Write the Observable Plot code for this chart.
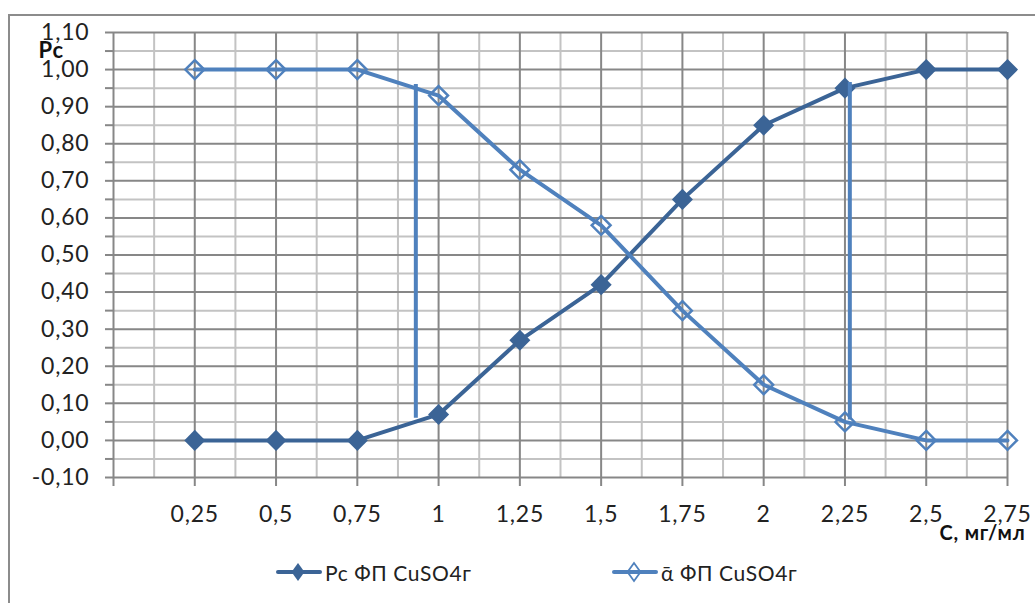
<!DOCTYPE html>
<html>
<head>
<meta charset="utf-8">
<script src="https://cdn.jsdelivr.net/npm/d3@7"></script>
<script src="https://cdn.jsdelivr.net/npm/@observablehq/plot@0.6"></script>
<style>
  html, body { margin: 0; padding: 0; background: #fff; width: 1035px; height: 603px; overflow: hidden; }
  #chart { position: absolute; left: 0; top: 0; }
  #frame { position: absolute; left: 8px; top: 14px; width: 1100px; height: 700px; border: 2px solid #8c8c8c; pointer-events: none; z-index: 5; }
  #legend { position: absolute; top: 558px; left: 0; width: 1035px; height: 28px; font-family: Lato, sans-serif; font-size: 21px; letter-spacing: 0.6px; color: #222; }
  .item { position: absolute; display: flex; align-items: center; height: 28px; }
  .item svg { display: block; margin-right: 3px; }
</style>
</head>
<body>
<div id="chart"></div>
<div id="legend"></div>
<div id="frame"></div>
<script>
// ---- data ----
const categories = [0.25, 0.5, 0.75, 1, 1.25, 1.5, 1.75, 2, 2.25, 2.5, 2.75];
const xTickLabels = ["0,25", "0,5", "0,75", "1", "1,25", "1,5", "1,75", "2", "2,25", "2,5", "2,75"];
const pcValues = [0, 0, 0, 0.07, 0.27, 0.42, 0.65, 0.85, 0.95, 1.00, 1.00];
const alphaValues = [1.00, 1.00, 1.00, 0.93, 0.73, 0.58, 0.35, 0.15, 0.05, 0, 0];
const yTickValues = [-0.1, 0, 0.1, 0.2, 0.3, 0.4, 0.5, 0.6, 0.7, 0.8, 0.9, 1.0, 1.1];
const yTickLabels = ["-0,10", "0,00", "0,10", "0,20", "0,30", "0,40", "0,50", "0,60", "0,70", "0,80", "0,90", "1,00", "1,10"];
const yMinorValues = [-0.05, 0.05, 0.15, 0.25, 0.35, 0.45, 0.55, 0.65, 0.75, 0.85, 0.95, 1.05];
const xMinorValues = [0.125, 0.375, 0.625, 0.875, 1.125, 1.375, 1.625, 1.875, 2.125, 2.375, 2.625];
const xAxisStart = 0;
// vertical marker lines drawn on the chart
const markerX = [0.93, 2.265];
const markerYLow = [0.06, 0.055];
const markerYHigh = [0.96, 0.965];
const seriesNames = ["Pc ФП CuSO4г", "ᾱ ФП CuSO4г"];
const seriesColors = ["#3B6496", "#4F81BD"];
const yTitle = "Pc";
const xTitle = "C, мг/мл";

// ---- build ----
const data = categories.map((c, i) => ({c, pc: pcValues[i], a: alphaValues[i]}));
const markers = markerX.map((x, i) => ({x, y1: markerYLow[i], y2: markerYHigh[i]}));
const majorGrid = "#878787", minorGrid = "#c3c3c3";
const yLabel = d => yTickLabels[yTickValues.findIndex(v => Math.abs(v - d) < 1e-9)] ?? "";
const xLabel = d => xTickLabels[categories.findIndex(v => Math.abs(v - d) < 1e-9)] ?? "";

const chart = Plot.plot({
  width: 1035,
  height: 550,
  marginLeft: 113,
  marginRight: 28,
  marginTop: 32,
  marginBottom: 73,
  x: {domain: [xAxisStart, categories[categories.length - 1]]},
  y: {domain: [yTickValues[0], yTickValues[yTickValues.length - 1]]},
  style: {fontFamily: "Lato, sans-serif", fontSize: "23px", letterSpacing: "0.8px", color: "#222", background: "transparent", overflow: "visible"},
  marks: [
    Plot.ruleY(yMinorValues, {stroke: minorGrid, strokeWidth: 2}),
    Plot.ruleX(xMinorValues, {stroke: minorGrid, strokeWidth: 2}),
    Plot.ruleY(yTickValues, {stroke: majorGrid, strokeWidth: 2}),
    Plot.ruleX([xAxisStart, ...categories], {stroke: majorGrid, strokeWidth: 2}),
    Plot.axisY({ticks: [...yTickValues, ...yMinorValues], tickSize: 8, tickFormat: () => "", stroke: majorGrid, strokeWidth: 2, label: null}),
    Plot.axisY({ticks: yTickValues, tickSize: 0, tickPadding: 24, tickFormat: yLabel, fill: "#222", label: null}),
    Plot.axisX({ticks: [xAxisStart, ...categories], tickSize: 9, tickFormat: () => "", stroke: majorGrid, strokeWidth: 2, label: null}),
    Plot.axisX({ticks: categories, tickSize: 0, tickPadding: 28, tickFormat: xLabel, fill: "#222", label: null}),
    Plot.line(data, {x: "c", y: "pc", stroke: seriesColors[0], strokeWidth: 4}),
    Plot.line(data, {x: "c", y: "a", stroke: seriesColors[1], strokeWidth: 4}),
    Plot.dot(data, {x: "c", y: "pc", symbol: "diamond2", r: 9.5, fill: seriesColors[0], stroke: "none"}),
    Plot.dot(data, {x: "c", y: "a", symbol: "diamond2", r: 8.5, fill: "none", stroke: seriesColors[1], strokeWidth: 2.5}),
    Plot.ruleX(markers, {x: "x", y1: "y1", y2: "y2", stroke: seriesColors[1], strokeWidth: 4}),
    Plot.text([yTitle], {frameAnchor: "top-left", text: d => d, textAnchor: "start", dx: -75, dy: 10, fontWeight: "bold", fontSize: 22, fill: "#111"}),
    Plot.text([xTitle], {frameAnchor: "bottom-right", text: d => d, textAnchor: "start", dx: -68, dy: 62, fontWeight: "bold", fontSize: 20, fill: "#111"})
  ]
});
document.getElementById("chart").appendChild(chart);

// ---- legend ----
const legend = document.getElementById("legend");
const legendLeft = [276, 612];
seriesNames.forEach((name, i) => {
  const item = document.createElement("div");
  item.className = "item";
  item.style.left = legendLeft[i] + "px";
  const filled = i === 0;
  item.innerHTML =
    `<svg width="46" height="28" viewBox="0 0 46 28">
       <line x1="2" y1="14" x2="44" y2="14" stroke="${seriesColors[i]}" stroke-width="4" stroke-linecap="round"/>
       <path d="M22,5 L28.5,14 L22,23 L15.5,14 Z" fill="${filled ? seriesColors[i] : "none"}" stroke="${seriesColors[i]}" stroke-width="${filled ? 0 : 1.8}"/>
     </svg><span>${name}</span>`;
  legend.appendChild(item);
});
</script>
</body>
</html>
